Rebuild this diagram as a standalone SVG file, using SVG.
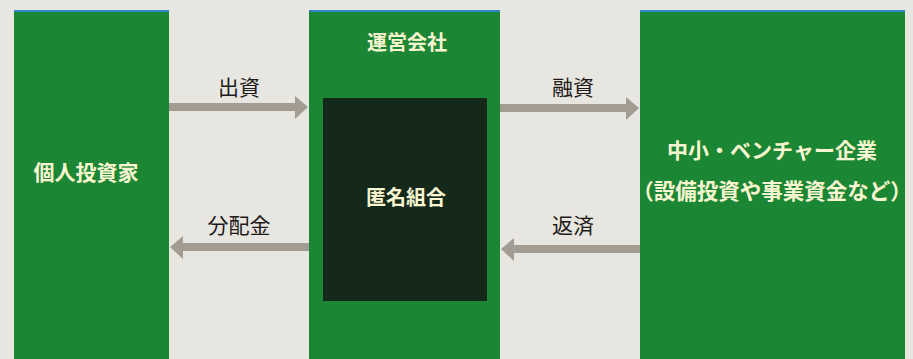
<svg xmlns="http://www.w3.org/2000/svg" width="913" height="359" viewBox="0 0 913 359">
<defs>
<style>
.box{fill:#1b8734}
.inner{fill:#15291b}
.topline{stroke:#2f86c8;stroke-width:2}
.w{font-family:"Noto Sans CJK JP","Noto Sans CJK SC",sans-serif;font-weight:700;fill:#fbf7d2;text-anchor:middle}
.lbl{font-family:"Noto Sans CJK JP","Noto Sans CJK SC",sans-serif;font-weight:400;fill:#1e1a18;font-size:21px;text-anchor:middle}
.shaft{stroke:#a39c92;stroke-width:8}
.head{fill:#a39c92}
</style>
</defs>
<rect width="913" height="359" fill="#e7e6e1"/>
<g id="investor">
<rect class="box" x="14" y="11" width="155" height="348"/>
<line class="topline" x1="14" y1="11" x2="169" y2="11"/>
<text class="w" x="86" y="180" font-size="21">個人投資家</text>
</g>
<g id="operator">
<rect class="box" x="309" y="11" width="191" height="348"/>
<line class="topline" x1="309" y1="11" x2="500" y2="11"/>
<text class="w" x="407" y="50" font-size="20">運営会社</text>
</g>
<g id="partnership">
<rect class="inner" x="323" y="98" width="164" height="203"/>
<text class="w" x="406" y="205" font-size="20">匿名組合</text>
</g>
<g id="sme">
<rect class="box" x="640" y="11" width="265" height="348"/>
<line class="topline" x1="640" y1="11" x2="905" y2="11"/>
<text class="w" x="772" y="158" font-size="21">中小・ベンチャー企業</text>
<text class="w" x="772" y="199" font-size="21.5">（設備投資や事業資金など）</text>
</g>
<g id="connectors">
<line class="shaft" x1="169" y1="107" x2="297" y2="107"/>
<polygon class="head" points="295,96 308,107 295,119"/>
<line class="shaft" x1="500" y1="108" x2="628" y2="108"/>
<polygon class="head" points="626,97 639,108 626,120"/>
<line class="shaft" x1="640" y1="249" x2="512" y2="249"/>
<polygon class="head" points="514,238 501,249 514,261"/>
<line class="shaft" x1="309" y1="247" x2="181" y2="247"/>
<polygon class="head" points="183,236 170,247 183,259"/>
<text class="lbl" x="239" y="95">出資</text>
<text class="lbl" x="573" y="95">融資</text>
<text class="lbl" x="239" y="233">分配金</text>
<text class="lbl" x="573" y="233">返済</text>
</g>
</svg>
